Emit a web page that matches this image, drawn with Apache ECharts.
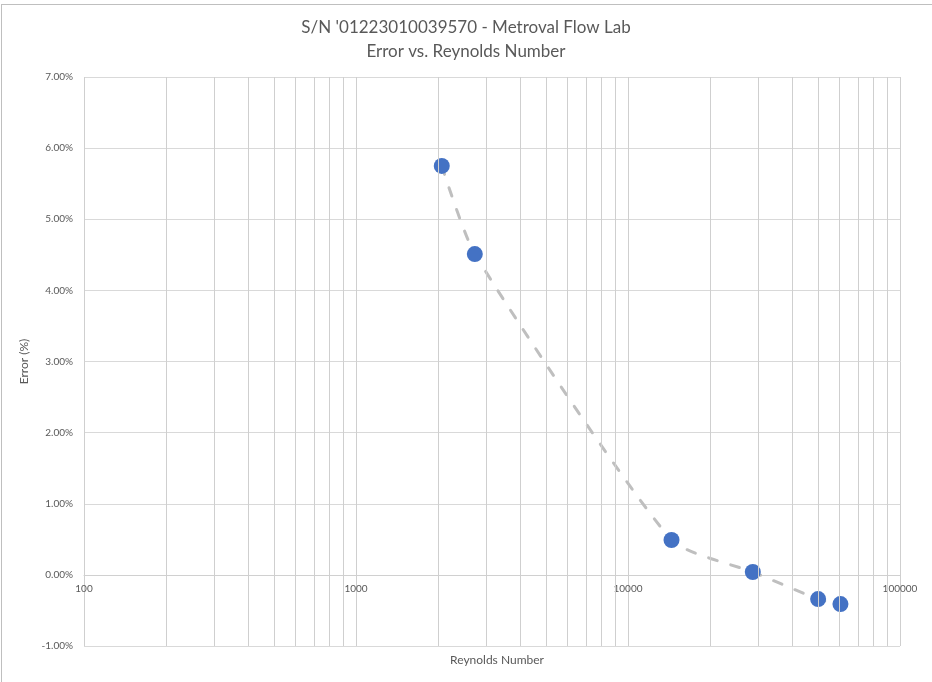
<!DOCTYPE html>
<html>
<head>
<meta charset="utf-8">
<title>Error vs. Reynolds Number</title>
<script src="https://cdn.jsdelivr.net/npm/echarts@6/dist/echarts.min.js"></script>
<style>
  html, body { margin: 0; padding: 0; background: #ffffff; overflow: hidden; }
  #frame { position: absolute; left: 1px; top: 4px; width: 1000px; height: 1000px;
           border-left: 1px solid #bfbfbf; border-top: 1px solid #bfbfbf; pointer-events: none; }
  #chart { position: absolute; left: 0; top: 0; width: 932px; height: 682px; }
</style>
</head>
<body>
<div id="chart"></div>
<div id="frame"></div>
<script>
// Calibration run: Reynolds number vs. meter error (%)
const titleLines = ["S/N '01223010039570 - Metroval Flow Lab", "Error vs. Reynolds Number"];
const xAxisTitle = "Reynolds Number";
const yAxisTitle = "Error (%)";

const reynolds = [2067, 2734, 14454, 28760, 50000, 60400];
const errorPct = [5.75, 4.51, 0.49, 0.04, -0.34, -0.41];

// log axis extent and the intermediate decade gridlines (2..9 x 10^n)
const xMin = 100, xMax = 100000;
const yMin = -1, yMax = 7, yStep = 1;
const minorGridValues = [];
for (let d = 100; d < xMax; d *= 10) {
  for (let k = 2; k <= 9; k++) minorGridValues.push(d * k);
}

const textColor = '#595959';
const fontFamily = 'Lato, "Open Sans", sans-serif';

const chart = echarts.init(document.getElementById('chart'), null, { renderer: 'canvas' });

chart.setOption({
  backgroundColor: '#ffffff',
  animation: false,
  textStyle: { fontFamily: fontFamily },
  title: [
    {
      text: titleLines.join('\n'),
      left: 'center',
      top: 11,
      textStyle: { color: textColor, fontSize: 17, fontWeight: 'normal', lineHeight: 24, fontFamily: fontFamily }
    },
    {
      text: xAxisTitle,
      left: 492,
      textAlign: 'center',
      top: 649,
      textStyle: { color: textColor, fontSize: 12, fontWeight: 'normal', fontFamily: fontFamily }
    }
  ],
  grid: { left: 84, right: 32, top: 77, bottom: 36 },
  xAxis: {
    type: 'log',
    logBase: 10,
    min: xMin,
    max: xMax,
    axisLine: { show: true, onZero: false, lineStyle: { color: '#d0d0d0', width: 1 } },
    axisTick: { show: false },
    axisLabel: {
      color: textColor, fontSize: 10, margin: 9,
      formatter: v => String(Math.round(v))
    },
    splitLine: { show: true, lineStyle: { color: '#cfcfcf', width: 1 } },
    minorTick: { show: false },
    minorSplitLine: { show: false }
  },
  yAxis: {
    type: 'value',
    min: yMin,
    max: yMax,
    interval: yStep,
    name: yAxisTitle,
    nameLocation: 'middle',
    nameRotate: 90,
    nameGap: 42,
    nameTextStyle: { color: textColor, fontSize: 12 },
    axisLine: { show: false },
    axisTick: { show: false },
    axisLabel: {
      color: textColor, fontSize: 10, margin: 11,
      formatter: v => v.toFixed(2) + '%'
    },
    splitLine: { show: true, lineStyle: { color: '#d9d9d9', width: 1 } }
  },
  series: [
    {
      // intermediate log gridlines placed through the x scale
      type: 'line',
      data: [],
      z: 1,
      silent: true,
      markLine: {
        silent: true,
        symbol: ['none', 'none'],
        label: { show: false },
        animation: false,
        lineStyle: { type: 'solid', color: '#cfcfcf', width: 1 },
        emphasis: { disabled: true },
        data: minorGridValues.map(v => ({ xAxis: v }))
      }
    },
    {
      name: yAxisTitle,
      type: 'line',
      z: 3,
      smooth: 0.2,
      data: reynolds.map((r, i) => [r, errorPct[i]]),
      symbol: 'circle',
      symbolSize: 16,
      itemStyle: { color: '#4472C4' },
      lineStyle: { color: '#bfbfbf', width: 3, type: [9, 14], cap: 'round' }
    }
  ]
});

// The category axis crosses the value axis at 0: lift the x axis from the
// grid bottom up to the zero line of the y scale.
const zeroY = chart.convertToPixel({ yAxisIndex: 0 }, 0);
const bottomY = chart.convertToPixel({ yAxisIndex: 0 }, yMin);
chart.setOption({ xAxis: { offset: -(bottomY - zeroY) } });
</script>
</body>
</html>
